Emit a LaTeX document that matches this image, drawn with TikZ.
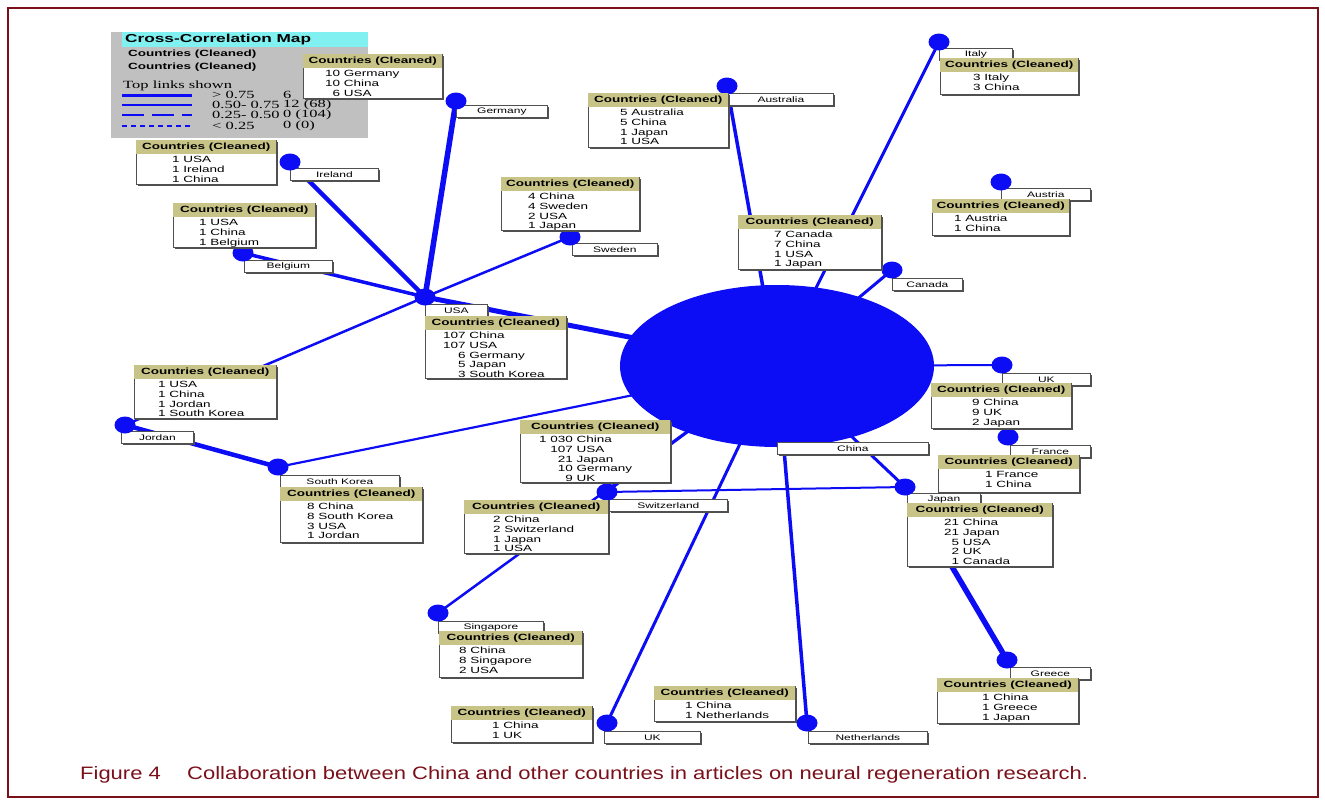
\documentclass[tikz,border=0pt]{standalone}
\usepackage{fontspec}
\usepackage{graphicx}
\setmainfont{Liberation Sans}
\newfontfamily\wf[FakeStretch=1.5]{Liberation Sans}
\newfontfamily\ws[FakeStretch=1.5]{Liberation Serif}
\usetikzlibrary{shapes.geometric,shadows}
\pgfdeclarelayer{edges}
\pgfsetlayers{edges,main}
\definecolor{hdr}{RGB}{200,196,136}
\definecolor{lk}{RGB}{12,12,245}
\definecolor{frm}{RGB}{122,16,26}
\definecolor{cy}{RGB}{128,240,240}
\definecolor{lg}{RGB}{192,192,192}
\definecolor{bx}{RGB}{80,80,80}
\tikzset{
 shd/.style={drop shadow={shadow xshift=1.3pt,shadow yshift=-1.3pt,fill=bx,opacity=1}},
 bframe/.style={draw=bx, line width=0.7pt, fill=white, anchor=north west, inner sep=0pt, shd},
 lblbox/.style={bframe, minimum height=12pt, font=\wf\fontsize{8}{9}\selectfont},
 hdrtxt/.style={inner sep=0pt, font=\wf\bfseries\fontsize{9}{10}\selectfont},
 bodytxt/.style={inner sep=0pt, anchor=north west, font=\wf\fontsize{9}{9.6}\selectfont},
 ndot/.style={ellipse, fill=lk, minimum width=21pt, minimum height=17pt, inner sep=0pt},
 lnk/.style={draw=lk, line width=#1},
 legtxt/.style={anchor=west, inner sep=0pt, font=\ws\fontsize{11}{12}\selectfont},
}
\newcommand\dbox[7]{%
  \node[bframe, minimum width=#4pt, minimum height=#5pt] (#1) at (#2,#3) {};
  \fill[hdr] ([shift={(0.35pt,-0.35pt)}]#1.north west) rectangle ([shift={(-0.35pt,-14pt)}]#1.north east);
  \node[hdrtxt] (#1h) at ([yshift=-7.2pt]#1.north) {Countries (Cleaned)};
  \node[bodytxt] (#1b) at ([shift={(#6pt,-16pt)}]#1.north west) {\begin{tabular}{@{}r@{\ }l@{}}#7\end{tabular}};
}
\begin{document}
\begin{tikzpicture}[x=1pt,y=-1pt]
\useasboundingbox (0,0) rectangle (1325,803);
\draw[frm, line width=1.4pt] (8,8) rectangle (1318,797);

% legend
\node[fill=lg, anchor=north west, minimum width=257pt, minimum height=106pt, inner sep=0pt] (leg) at (111,32) {};
\node[fill=cy, anchor=north west, minimum width=246pt, minimum height=15pt, inner sep=0pt] (legbar) at (122,32) {};
\node[anchor=west, inner sep=0pt, font=\wf\bfseries\fontsize{11.5}{12}\selectfont] (legt) at (125,40) {Cross-Correlation Map};
\node[hdrtxt, anchor=west] (legc1) at (128,54) {Countries (Cleaned)};
\node[hdrtxt, anchor=west] (legc2) at (128,67) {Countries (Cleaned)};
\node[legtxt] (legtop) at (123,86) {Top links shown};
\draw[lk, line width=3pt] (122,95) -- (192,95);
\draw[lk, line width=1.5pt] (122,105) -- (192,105);
\draw[lk, line width=1.5pt, dash pattern=on 22pt off 8pt] (122,115) -- (192,115);
\draw[lk, line width=1.2pt, dash pattern=on 5pt off 4pt] (122,126) -- (192,126);
\node[legtxt] (th1) at (212,95) {> 0.75};
\node[legtxt] (th2) at (212,105) {0.50- 0.75};
\node[legtxt] (th3) at (212,115) {0.25- 0.50};
\node[legtxt] (th4) at (212,126) {< 0.25};
\node[legtxt] (ct1) at (283,95) {6};
\node[legtxt] (ct2) at (283,105) {12 (68)};
\node[legtxt] (ct3) at (283,115) {0 (104)};
\node[legtxt] (ct4) at (283,126) {0 (0)};

% central node
\node[ellipse, fill=lk, minimum width=314pt, minimum height=162pt, inner sep=0pt] (china) at (777,366) {};

% labels
\node[lblbox, minimum width=91pt] (lGer) at (456,105) {Germany};
\node[lblbox, minimum width=88pt] (lIre) at (290,168) {Ireland};
\node[lblbox, minimum width=88pt] (lBel) at (244,260) {Belgium};
\node[lblbox, minimum width=85pt] (lSwe) at (572,243) {Sweden};
\node[lblbox, minimum width=62pt] (lUSA) at (425,304) {USA};
\node[lblbox, minimum width=72pt] (lJor) at (121,431) {Jordan};
\node[lblbox, minimum width=119pt] (lSK) at (280,475) {South Korea};
\node[lblbox, minimum width=118pt] (lSwi) at (609,499) {Switzerland};
\node[lblbox, minimum width=105pt] (lSin) at (438,621) {Singapore};
\node[lblbox, minimum width=96pt] (lUKb) at (604,731) {UK};
\node[lblbox, minimum width=119pt] (lNet) at (808,731) {Netherlands};
\node[lblbox, minimum width=80pt] (lGre) at (1010,667) {Greece};
\node[lblbox, minimum width=73pt] (lJap) at (907,493) {Japan};
\node[lblbox, minimum width=80pt] (lFra) at (1010,445) {France};
\node[lblbox, minimum width=88pt] (lUKr) at (1002,373) {UK};
\node[lblbox, minimum width=70pt] (lCan) at (892,278) {Canada};
\node[lblbox, minimum width=89pt] (lAut) at (1001,188) {Austria};
\node[lblbox, minimum width=73pt] (lIta) at (939,48) {Italy};
\node[lblbox, minimum width=105pt] (lAus) at (728,93) {Australia};
\node[lblbox, minimum width=151pt] (lChi) at (777,442) {China};

% dots
\node[ndot] (nGer) at (456,101) {};
\node[ndot] (nIre) at (290,162) {};
\node[ndot] (nBel) at (243,253) {};
\node[ndot] (nSwe) at (570,237) {};
\node[ndot] (nUSA) at (425,297) {};
\node[ndot] (nJor) at (125,425) {};
\node[ndot] (nSK) at (278,467) {};
\node[ndot] (nSwi) at (607,492) {};
\node[ndot] (nSin) at (438,613) {};
\node[ndot] (nUKb) at (607,723) {};
\node[ndot] (nNet) at (807,723) {};
\node[ndot] (nGre) at (1007,660) {};
\node[ndot] (nJap) at (905,487) {};
\node[ndot] (nFra) at (1008,437) {};
\node[ndot] (nUKr) at (1002,365) {};
\node[ndot] (nCan) at (892,270) {};
\node[ndot] (nAut) at (1001,182) {};
\node[ndot] (nIta) at (939,42) {};
\node[ndot] (nAus) at (727,86) {};

% data boxes
\dbox{dGer}{303}{54}{139}{44}{22}{10&Germany\\10&China\\6&USA}
\dbox{dIre}{136}{140}{140}{44}{36}{1&USA\\1&Ireland\\1&China}
\dbox{dBel}{173}{203}{142}{44}{26}{1&USA\\1&China\\1&Belgium}
\dbox{dSwe}{501}{177}{138}{53}{27}{4&China\\4&Sweden\\2&USA\\1&Japan}
\dbox{dUSA}{425}{316}{141}{62}{18}{107&China\\107&USA\\6&Germany\\5&Japan\\3&South Korea}
\dbox{dJor}{134}{365}{142}{53}{24}{1&USA\\1&China\\1&Jordan\\1&South Korea}
\dbox{dSK}{280}{487}{142}{55}{27}{8&China\\8&South Korea\\3&USA\\1&Jordan}
\dbox{dSwi}{464}{500}{144}{53}{29}{2&China\\2&Switzerland\\1&Japan\\1&USA}
\dbox{dSin}{439}{631}{143}{46}{20}{8&China\\8&Singapore\\2&USA}
\dbox{dUKb}{451}{706}{141}{36}{41}{1&China\\1&UK}
\dbox{dNet}{654}{686}{141}{35}{31}{1&China\\1&Netherlands}
\dbox{dGre}{937}{678}{141}{45}{45}{1&China\\1&Greece\\1&Japan}
\dbox{dJap}{907}{503}{145}{63}{37}{21&China\\21&Japan\\5&USA\\2&UK\\1&Canada}
\dbox{dFra}{938}{455}{141}{37}{47}{1&France\\1&China}
\dbox{dUKr}{931}{383}{140}{45}{41}{9&China\\9&UK\\2&Japan}
\dbox{dCan}{738}{215}{143}{54}{36}{7&Canada\\7&China\\1&USA\\1&Japan}
\dbox{dAut}{932}{199}{137}{36}{22}{1&Austria\\1&China}
\dbox{dIta}{940}{58}{138}{36}{33}{3&Italy\\3&China}
\dbox{dAus}{588}{93}{140}{54}{32}{5&Australia\\5&China\\1&Japan\\1&USA}
\dbox{dChi}{520}{420}{150}{62}{19}{1 030&China\\107&USA\\21&Japan\\10&Germany\\9&UK}

% connectors (under everything)
\begin{pgfonlayer}{edges}
\draw[lnk=5.5pt] (nGer.center) -- (nUSA.center);
\draw[lnk=4.5pt] (nIre.center) -- (nUSA.center);
\draw[lnk=3.5pt] (nBel.center) -- (nUSA.center);
\draw[lnk=2.5pt] (nSwe.center) -- (nUSA.center);
\draw[lnk=2.5pt] (nUSA.center) -- (nJor.center);
\draw[lnk=5pt] (nUSA.center) -- (china.center);
\draw[lnk=4.5pt] (nJor.center) -- (nSK.center);
\draw[lnk=2.2pt] (nSK.center) -- (china.center);
\draw[lnk=2pt] (nSwi.center) -- (china.center);
\draw[lnk=2pt] (nSwi.center) -- (nJap.center);
\draw[lnk=2.5pt] (nSin.center) -- (china.center);
\draw[lnk=3pt] (nUKb.center) -- (china.center);
\draw[lnk=3.5pt] (nNet.center) -- (china.center);
\draw[lnk=5.5pt] (nGre.center) -- (nJap.center);
\draw[lnk=3pt] (nJap.center) -- (china.center);
\draw[lnk=3pt] (nCan.center) -- (china.center);
\draw[lnk=3.5pt] (nAus.center) -- (china.center);
\draw[lnk=3pt] (nIta.center) -- (china.center);
\draw[lnk=2pt] (nUKr.center) -- (china.center);
\end{pgfonlayer}

% caption
\node[anchor=base west, text=frm, inner sep=0pt] (cap) at (80,779) {\resizebox{1008pt}{\height}{\fontsize{18}{20}\selectfont Figure 4\hspace{1.2em}Collaboration between China and other countries in articles on neural regeneration research.}};
\end{tikzpicture}
\end{document}
